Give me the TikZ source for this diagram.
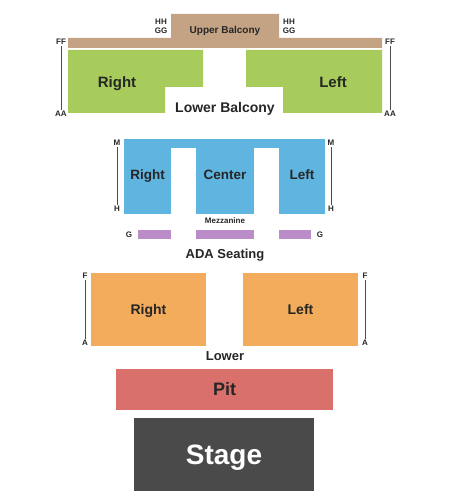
\documentclass[tikz,border=0pt]{standalone}
\usepackage{fontspec}
\setmainfont{Liberation Sans}
\usepackage{xcolor}
\usetikzlibrary{positioning}

\definecolor{balconytan}{RGB}{196,163,133}
\definecolor{lowergreen}{RGB}{168,204,92}
\definecolor{mezzblue}{RGB}{96,180,224}
\definecolor{adapurple}{RGB}{186,140,200}
\definecolor{floororange}{RGB}{243,172,92}
\definecolor{pitred}{RGB}{217,112,107}
\definecolor{stagegray}{RGB}{74,74,74}

\begin{document}
\begin{tikzpicture}[
    x=1pt, y=-1pt,
    block/.style={rectangle, inner sep=0pt},
    lab/.style={inner sep=0pt, text depth=0pt, text=black!85,
        font=\bfseries\fontsize{#1}{#1}\selectfont, text height=0.716*#1pt},
    rowlabel/.style={font=\bfseries\fontsize{8}{8}\selectfont, inner sep=1.5pt, text=black!85},
    rowline/.style={draw=black!70, line width=0.8pt}
]
\useasboundingbox (0,0) rectangle (450,500);

% upper balcony
\fill [balconytan] (171,14) -- (279,14) -- (279,38) -- (382,38) -- (382,48)
    -- (68,48) -- (68,38) -- (171,38) -- cycle;
\node (upbal) [lab=10] at (225,30) {Upper Balcony};
\node (hhR) [rowlabel, align=center] at (161,26) {HH\\[1pt]GG};
\node (hhL) [rowlabel, align=center] at (289,26) {HH\\[1pt]GG};

% lower balcony
\fill [lowergreen] (68,50) -- (203,50) -- (203,87) -- (165,87) -- (165,113) -- (68,113) -- cycle;
\fill [lowergreen] (246,50) -- (382,50) -- (382,113) -- (283,113) -- (283,87) -- (246,87) -- cycle;
\node (lbR) [lab=15] at (117,82) {Right};
\node (lbL) [lab=15] at (333,82) {Left};
\node (lowbal) [lab=14] at (225,107) {Lower Balcony};
\node (ffR) [rowlabel] at (61,42) {FF};
\node (aaR) [rowlabel] at (61,114) {AA};
\node (ffL) [rowlabel] at (390,42) {FF};
\node (aaL) [rowlabel] at (390,114) {AA};
\draw [rowline] (ffR) -- (aaR);
\draw [rowline] (ffL) -- (aaL);

% mezzanine
\fill [mezzblue] (124,139) rectangle (325,148);
\node (mzR) [block, fill=mezzblue, minimum width=47, minimum height=66] at (147.5,180.5) {};
\node (mzC) [block, fill=mezzblue, minimum width=58, minimum height=66] at (225,180.5) {};
\node (mzL) [block, fill=mezzblue, minimum width=46, minimum height=66] at (302,180.5) {};
\node (mzRlab) [lab=13.5] at (147.5,175) {Right};
\node (mzClab) [lab=13.5] at (225,175) {Center};
\node (mzLlab) [lab=13.5] at (302,175) {Left};
\node (mezz) [rowlabel] at (225,221) {Mezzanine};
\node (mR) [rowlabel] at (117,143) {M};
\node (hR) [rowlabel] at (117,209) {H};
\node (mL) [rowlabel] at (331,143) {M};
\node (hL) [rowlabel] at (331,209) {H};
\draw [rowline] (mR) -- (hR);
\draw [rowline] (mL) -- (hL);

% ada seating
\node (adaR) [block, fill=adapurple, minimum width=33, minimum height=9] at (154.5,234.5) {};
\node (adaC) [block, fill=adapurple, minimum width=58, minimum height=9] at (225,234.5) {};
\node (adaL) [block, fill=adapurple, minimum width=32, minimum height=9] at (295,234.5) {};
\node (gR) [rowlabel, left=4pt of adaR] {G};
\node (gL) [rowlabel, right=4pt of adaL] {G};
\node (ada) [lab=13] at (225,254) {ADA Seating};

% lower
\node (loR) [block, fill=floororange, minimum width=115, minimum height=73, lab=14] at (148.5,309.5) {Right};
\node (loL) [block, fill=floororange, minimum width=115, minimum height=73, lab=14] at (300.5,309.5) {Left};
\node (fR) [rowlabel] at (85,276) {F};
\node (aR) [rowlabel] at (85,343) {A};
\node (fL) [rowlabel] at (365,276) {F};
\node (aL) [rowlabel] at (365,343) {A};
\draw [rowline] (fR) -- (aR);
\draw [rowline] (fL) -- (aL);
\node (lower) [lab=13] at (225,356) {Lower};

% pit and stage
\node (pit) [block, fill=pitred, minimum width=217, minimum height=41, lab=18] at (224.5,389.5) {Pit};
\node (stage) [block, fill=stagegray, minimum width=180, minimum height=73, lab=28, text=white] at (224,454.5) {Stage};
\end{tikzpicture}
\end{document}
